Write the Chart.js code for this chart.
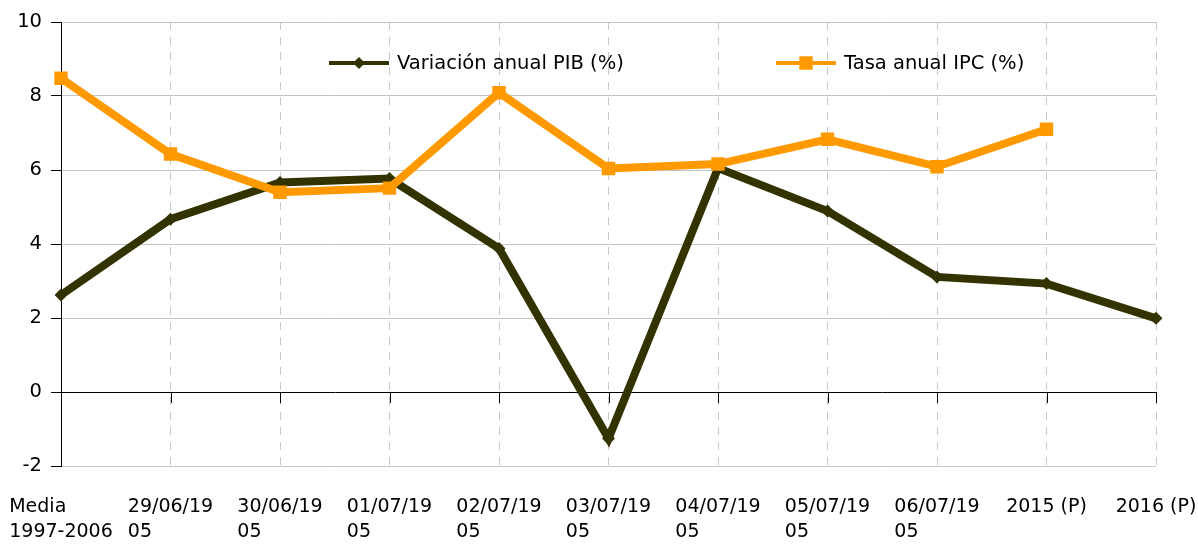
<!DOCTYPE html>
<html>
<head>
<meta charset="utf-8">
<script src="https://cdn.jsdelivr.net/npm/chart.js@4"></script>
<style>
  body{margin:0;background:#fff;}
  #wrap{width:1198px;height:547px;}
</style>
</head>
<body>
<div id="wrap"><canvas id="myChart" width="1198" height="547"></canvas></div>
<script>
const categories = [
    ['Media','1997-2006'],
    ['29/06/19','05'],
    ['30/06/19','05'],
    ['01/07/19','05'],
    ['02/07/19','05'],
    ['03/07/19','05'],
    ['04/07/19','05'],
    ['05/07/19','05'],
    ['06/07/19','05'],
    ['2015 (P)'],
    ['2016 (P)']
];
const pibValues = [2.62, 4.67, 5.66, 5.77, 3.88, -1.26, 6.05, 4.89, 3.11, 2.93, 1.99];
const ipcValues = [8.48, 6.43, 5.40, 5.51, 8.09, 6.04, 6.16, 6.83, 6.09, 7.10, null];
const yTicks = [-2, 0, 2, 4, 6, 8, 10];
const seriesNames = ['Variación anual PIB (%)', 'Tasa anual IPC (%)'];

const FONT = '"DejaVu Sans", sans-serif';
const PIB_COLOR = '#333300';
const IPC_COLOR = '#FF9900';

// x labels: block centred on the category, lines left aligned (like Excel)
const xLabelsPlugin = {
    id: 'xLabels',
    beforeDatasetsDraw(chart){
        const ctx = chart.ctx;
        const x = chart.scales.x, y = chart.scales.y;
        const y0 = y.getPixelForValue(0);
        ctx.save();
        ctx.strokeStyle = '#000';
        ctx.lineWidth = 1;
        for(let i = 1; i < categories.length; i++){
            const px = Math.round(x.getPixelForValue(i)) + 0.5;
            ctx.beginPath();
            ctx.moveTo(px, y0);
            ctx.lineTo(px, y0 + 11);
            ctx.stroke();
        }
        ctx.restore();
    },
    afterDraw(chart){
        const ctx = chart.ctx;
        const x = chart.scales.x;
        const bottom = chart.chartArea.bottom;
        ctx.save();
        ctx.font = '19px ' + FONT;
        ctx.fillStyle = '#000';
        ctx.textAlign = 'left';
        ctx.textBaseline = 'alphabetic';
        categories.forEach((lines, i) => {
            const w = Math.max(...lines.map(l => ctx.measureText(l).width));
            const left = x.getPixelForValue(i) - w / 2;
            lines.forEach((l, k) => ctx.fillText(l, left, bottom + 46 + k * 24.5));
        });

        // legend inside the plot, Excel style: line + marker + text
        const items = [
            {x: 329, color: PIB_COLOR, style: 'rectRot', r: 6},
            {x: 776, color: IPC_COLOR, style: 'rect', r: 9.5}
        ];
        const ly = chart.chartArea.top + 41;
        ctx.font = '19.5px ' + FONT;
        items.forEach((it, i) => {
            ctx.strokeStyle = it.color;
            ctx.lineWidth = 4;
            ctx.beginPath();
            ctx.moveTo(it.x, ly);
            ctx.lineTo(it.x + 60, ly);
            ctx.stroke();
            ctx.fillStyle = it.color;
            Chart.helpers.drawPoint(ctx, {pointStyle: it.style, radius: it.r, borderWidth: 0}, it.x + 30, ly);
            ctx.fillStyle = '#000';
            ctx.textBaseline = 'middle';
            ctx.fillText(seriesNames[i], it.x + 68, ly + 1);
        });
        ctx.restore();
    }
};

const ctx = document.getElementById('myChart').getContext('2d');
const myChart = new Chart(ctx, {
    type: 'line',
    data: {
        labels: categories,
        datasets: [{
            label: seriesNames[0],
            data: pibValues,
            borderColor: PIB_COLOR,
            backgroundColor: PIB_COLOR,
            borderWidth: 8,
            pointStyle: 'rectRot',
            pointRadius: 6.5,
            pointBorderWidth: 0,
            tension: 0,
            order: 2
        }, {
            label: seriesNames[1],
            data: ipcValues,
            borderColor: IPC_COLOR,
            backgroundColor: IPC_COLOR,
            borderWidth: 8,
            pointStyle: 'rect',
            pointRadius: 9.5,
            pointBorderWidth: 0,
            tension: 0,
            spanGaps: false,
            order: 1
        }]
    },
    options: {
        responsive: false,
        animation: false,
        layout: {padding: {top: 22, right: 42, left: 0, bottom: 0}},
        plugins: {
            legend: {display: false},
            tooltip: {enabled: false}
        },
        scales: {
            x: {
                offset: false,
                ticks: {display: false},
                grid: {
                    color: c => c.index === 0 ? 'rgba(0,0,0,0)' : '#c8c8c8',
                    drawTicks: false,
                    tickBorderDash: [8, 7]
                },
                border: {display: false, dash: [8, 7]},
                afterFit: s => { s.height = 81; }
            },
            y: {
                min: -2,
                max: 10,
                afterBuildTicks: s => { s.ticks = yTicks.map(v => ({value: v})); },
                ticks: {
                    color: '#000',
                    font: {family: FONT, size: 19.5},
                    padding: 9
                },
                grid: {
                    color: c => c.tick && c.tick.value === 0 ? '#000' : '#c4c4c4',
                    tickColor: '#000',
                    tickLength: 10
                },
                border: {display: true, color: '#000'},
                afterFit: s => { s.width = 61; }
            }
        }
    },
    plugins: [xLabelsPlugin]
});
</script>
</body>
</html>
